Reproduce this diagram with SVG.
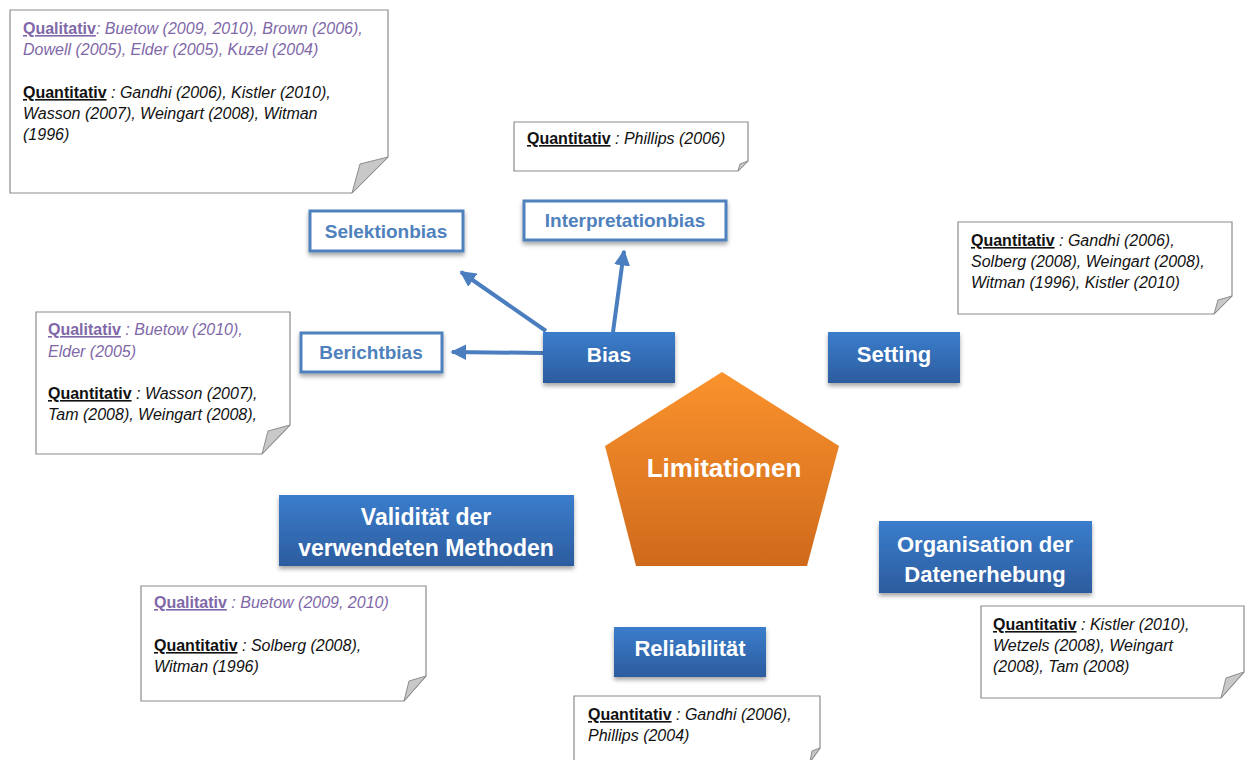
<svg xmlns="http://www.w3.org/2000/svg" width="1245" height="760" viewBox="0 0 1245 760">
<defs>
<linearGradient id="blue" x1="0" y1="0" x2="0" y2="1">
<stop offset="0" stop-color="#3b7dcc"/>
<stop offset="1" stop-color="#2c5c9e"/>
</linearGradient>
<linearGradient id="orange" x1="0" y1="0" x2="0" y2="1">
<stop offset="0" stop-color="#fa922c"/>
<stop offset="1" stop-color="#cf6a1c"/>
</linearGradient>
<filter id="sh" x="-10%" y="-10%" width="120%" height="140%">
<feDropShadow dx="0" dy="3" stdDeviation="2" flood-color="#000" flood-opacity="0.35"/>
</filter>
<marker id="ah" viewBox="0 0 10 10" refX="9" refY="5" markerWidth="4" markerHeight="4" orient="auto" markerUnits="strokeWidth">
<path d="M0,0 L10,5 L0,10 Z" fill="#4a7ebf"/>
</marker>
</defs>
<style>
.note{fill:#fff;stroke:#8c8c8c;stroke-width:1.2}
.fold{fill:#c8c8c8;stroke:#8c8c8c;stroke-width:1}
.nt{font-family:"Liberation Sans",Arial,sans-serif;font-size:16px;font-style:italic;fill:#111}
.ql{fill:#8068a8}
.lab{font-style:normal;font-weight:bold;text-decoration:underline}
.bb{fill:url(#blue)}
.bt{font-family:"Liberation Sans",Arial,sans-serif;font-weight:bold;font-size:22px;fill:#fff;text-anchor:middle}
.ob{fill:#fff;stroke:#4f81bd;stroke-width:3}
.ot{font-family:"Liberation Sans",Arial,sans-serif;font-weight:bold;font-size:19px;fill:#4f81bd;text-anchor:middle}
.con{stroke:#4a7ebf;stroke-width:4;fill:none}
</style>
<rect width="1245" height="760" fill="#fff"/>

<g id="note-selektion">
<path class="note" d="M10,10 H388 V157 L352,193 H10 Z"/>
<path class="fold" d="M388,157 L360,164 L352,193 Z"/>
<text class="nt ql" x="23" y="34"><tspan class="lab">Qualitativ</tspan>: Buetow (2009,  2010), Brown (2006),</text>
<text class="nt ql" x="23" y="55">Dowell (2005), Elder (2005), Kuzel (2004)</text>
<text class="nt" x="23" y="98"><tspan class="lab">Quantitativ</tspan> : Gandhi (2006), Kistler (2010),</text>
<text class="nt" x="23" y="119">Wasson (2007),  Weingart (2008), Witman</text>
<text class="nt" x="23" y="140">(1996)</text>
</g>

<g id="note-interpretation">
<path class="note" d="M514,122 H748 V161 L738,171 H514 Z"/>
<path class="fold" d="M748,161 L740,164 L738,171 Z"/>
<text class="nt" x="527" y="144"><tspan class="lab">Quantitativ</tspan> : Phillips (2006)</text>
</g>

<g id="note-setting">
<path class="note" d="M958,222 H1232 V296 L1214,314 H958 Z"/>
<path class="fold" d="M1232,296 L1218,300 L1214,314 Z"/>
<text class="nt" x="971" y="246"><tspan class="lab">Quantitativ</tspan> : Gandhi (2006),</text>
<text class="nt" x="971" y="267">Solberg (2008), Weingart (2008),</text>
<text class="nt" x="971" y="288">Witman (1996), Kistler (2010)</text>
</g>

<g id="note-bericht">
<path class="note" d="M36,312 H290 V425 L262,454 H36 Z"/>
<path class="fold" d="M290,425 L268,431 L262,454 Z"/>
<text class="nt ql" x="48" y="335"><tspan class="lab">Qualitativ</tspan> : Buetow (2010),</text>
<text class="nt ql" x="48" y="357">Elder (2005)</text>
<text class="nt" x="48" y="399"><tspan class="lab">Quantitativ</tspan> : Wasson (2007),</text>
<text class="nt" x="48" y="420">Tam (2008), Weingart (2008),</text>
</g>

<g id="note-validitaet">
<path class="note" d="M141,586 H426 V676 L404,701 H141 Z"/>
<path class="fold" d="M426,676 L409,681 L404,701 Z"/>
<text class="nt ql" x="154" y="608"><tspan class="lab">Qualitativ</tspan> : Buetow (2009,  2010)</text>
<text class="nt" x="154" y="651"><tspan class="lab">Quantitativ</tspan> : Solberg (2008),</text>
<text class="nt" x="154" y="672">Witman (1996)</text>
</g>

<g id="note-reliabilitaet">
<path class="note" d="M574,696 H820 V748 L810,762 H574 Z"/>
<path class="fold" d="M820,748 L812,751 L810,762 Z"/>
<text class="nt" x="588" y="720"><tspan class="lab">Quantitativ</tspan> : Gandhi (2006),</text>
<text class="nt" x="588" y="741">Phillips (2004)</text>
</g>

<g id="note-organisation">
<path class="note" d="M981,606 H1244 V672 L1221,698 H981 Z"/>
<path class="fold" d="M1244,672 L1226,678 L1221,698 Z"/>
<text class="nt" x="993" y="630"><tspan class="lab">Quantitativ</tspan> : Kistler (2010),</text>
<text class="nt" x="993" y="651">Wetzels (2008), Weingart</text>
<text class="nt" x="993" y="672">(2008), Tam (2008)</text>
</g>

<g id="connectors">
<line class="con" x1="546" y1="331" x2="461" y2="272" marker-end="url(#ah)"/>
<line class="con" x1="613" y1="332" x2="624" y2="251" marker-end="url(#ah)"/>
<line class="con" x1="543" y1="353" x2="452" y2="352" marker-end="url(#ah)"/>
</g>

<g id="selektionbias">
<rect class="ob" x="310" y="211" width="153" height="40" filter="url(#sh)"/>
<text class="ot" x="386" y="238">Selektionbias</text>
</g>

<g id="interpretationbias">
<rect class="ob" x="524" y="201" width="202" height="39" filter="url(#sh)"/>
<text class="ot" x="625" y="227">Interpretationbias</text>
</g>

<g id="berichtbias">
<rect class="ob" x="301" y="333" width="141" height="39" filter="url(#sh)"/>
<text class="ot" x="371" y="359">Berichtbias</text>
</g>

<g id="bias">
<rect class="bb" x="543" y="332" width="132" height="51" filter="url(#sh)"/>
<text class="bt" x="609" y="362" style="font-size:21px">Bias</text>
</g>

<g id="setting">
<rect class="bb" x="828" y="332" width="132" height="51" filter="url(#sh)"/>
<text class="bt" x="894" y="362">Setting</text>
</g>

<g id="limitationen">
<polygon points="722,372 839,446 807,566 636,566 605,446" fill="url(#orange)"/>
<text class="bt" x="724" y="477" style="font-size:26px">Limitationen</text>
</g>

<g id="validitaet">
<rect class="bb" x="279" y="495" width="295" height="71" filter="url(#sh)"/>
<text class="bt" x="426" y="525" style="font-size:23px">Validität der</text>
<text class="bt" x="426" y="556" style="font-size:23px">verwendeten Methoden</text>
</g>

<g id="organisation">
<rect class="bb" x="879" y="521" width="213" height="72" filter="url(#sh)"/>
<text class="bt" x="985" y="552">Organisation der</text>
<text class="bt" x="985" y="582">Datenerhebung</text>
</g>

<g id="reliabilitaet">
<rect class="bb" x="614" y="627" width="152" height="50" filter="url(#sh)"/>
<text class="bt" x="690" y="656">Reliabilität</text>
</g>
</svg>
